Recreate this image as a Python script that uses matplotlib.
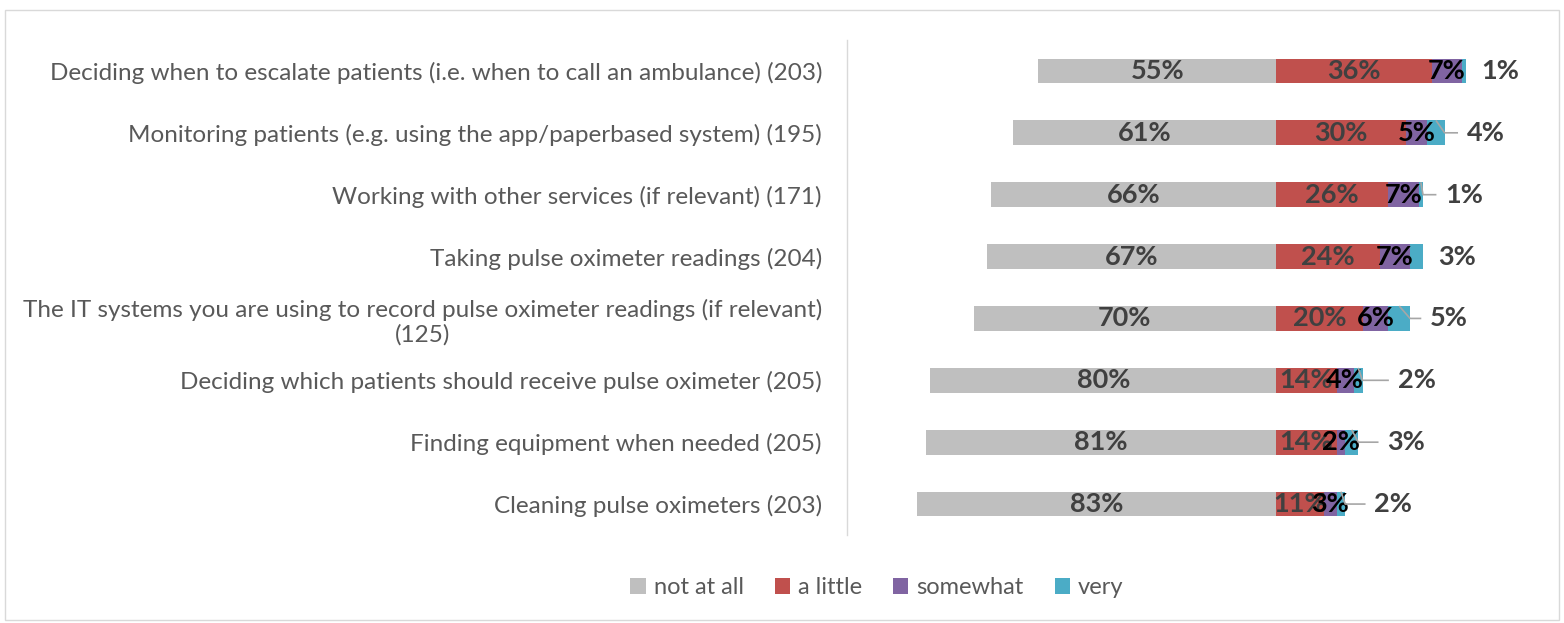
import numpy as np
import matplotlib.pyplot as plt
from matplotlib.patches import Rectangle

# Data (share of respondents, %)
categories = [
    'Deciding when to escalate patients (i.e. when to call an ambulance) (203)',
    'Monitoring patients (e.g. using the app/paperbased system) (195)',
    'Working with other services (if relevant) (171)',
    'Taking pulse oximeter readings (204)',
    'The IT systems you are using to record pulse oximeter readings (if relevant)\n(125)',
    'Deciding which patients should receive pulse oximeter (205)',
    'Finding equipment when needed (205)',
    'Cleaning pulse oximeters (203)',
]
not_at_all = [55, 61, 66, 67, 70, 80, 81, 83]
a_little = [36, 30, 26, 24, 20, 14, 14, 11]
somewhat = [7, 5, 7, 7, 6, 4, 2, 3]
very = [1, 4, 1, 3, 5, 2, 3, 2]
series_names = ['not at all', 'a little', 'somewhat', 'very']

# layout: gap between bar end and the outside "very" label (in % units)
label_gap = [3.5, 5.1, 5.1, 3.5, 4.6, 8.1, 6.7, 6.7]

colors = ['#BFBFBF', '#C0504D', '#8064A2', '#4BACC6']
txt_dark = '#404040'
txt_gray = '#595959'

plt.rcParams['font.family'] = ['Lato', 'DejaVu Sans']

fig = plt.figure(figsize=(15.64, 6.23), dpi=100)
ax = fig.add_axes([847 / 1564, 88 / 623, 713 / 1564, 495 / 623])

y = np.arange(len(categories))
h = 0.4
na = np.array(not_at_all)
al = np.array(a_little)
sw = np.array(somewhat)
vy = np.array(very)

b0 = ax.barh(y, -na, height=h, color=colors[0], label=series_names[0])
b1 = ax.barh(y, al, height=h, color=colors[1], label=series_names[1])
b2 = ax.barh(y, sw, left=al, height=h, color=colors[2], label=series_names[2])
b3 = ax.barh(y, vy, left=al + sw, height=h, color=colors[3], label=series_names[3])

fs = 19.5
for i in range(len(categories)):
    ax.text(-na[i] / 2, y[i], f'{na[i]}%', ha='center', va='center',
            fontsize=fs, fontweight='bold', color=txt_dark)
    ax.text(al[i] / 2, y[i], f'{al[i]}%', ha='center', va='center',
            fontsize=fs, fontweight='bold', color=txt_dark)
    ax.text(al[i] + sw[i] / 2, y[i], f'{sw[i]}%', ha='center', va='center',
            fontsize=fs, fontweight='bold', color='black')
    end = al[i] + sw[i] + vy[i]
    lx = end + label_gap[i]
    ax.text(lx, y[i], f'{vy[i]}%', ha='left', va='center',
            fontsize=fs, fontweight='bold', color=txt_dark)
    if label_gap[i] > 4:
        ax.plot([end - vy[i] / 2, end, lx - 2], [y[i] - h / 2, y[i], y[i]],
                color='#A6A6A6', lw=1.2, zorder=3, solid_capstyle='butt')

ax.set_xlim(-99.3, 65.7)
ax.set_ylim(len(categories) - 0.5, -0.5)
ax.set_xticks([])
ax.set_yticks(y)
ax.set_yticklabels(categories, fontsize=17.5, color=txt_gray, multialignment='center')
ax.tick_params(axis='y', length=0, pad=18)
for s in ['top', 'right', 'bottom']:
    ax.spines[s].set_visible(False)
ax.spines['left'].set_color('#D9D9D9')
ax.spines['left'].set_linewidth(1)

leg = fig.legend(handles=[b0, b1, b2, b3], labels=series_names, loc='center',
                 bbox_to_anchor=(877 / 1564, 1 - 588 / 623), ncol=4, frameon=False,
                 fontsize=17, handlelength=0.65, handleheight=0.65, handletextpad=0.35,
                 columnspacing=1.3)
for t in leg.get_texts():
    t.set_color(txt_gray)

fig.patches.append(Rectangle((5 / 1564, 3 / 623), 1554 / 1564, 610 / 623,
                             transform=fig.transFigure, fill=False,
                             edgecolor='#D9D9D9', lw=1))

fig.savefig('out.png', dpi=100)
